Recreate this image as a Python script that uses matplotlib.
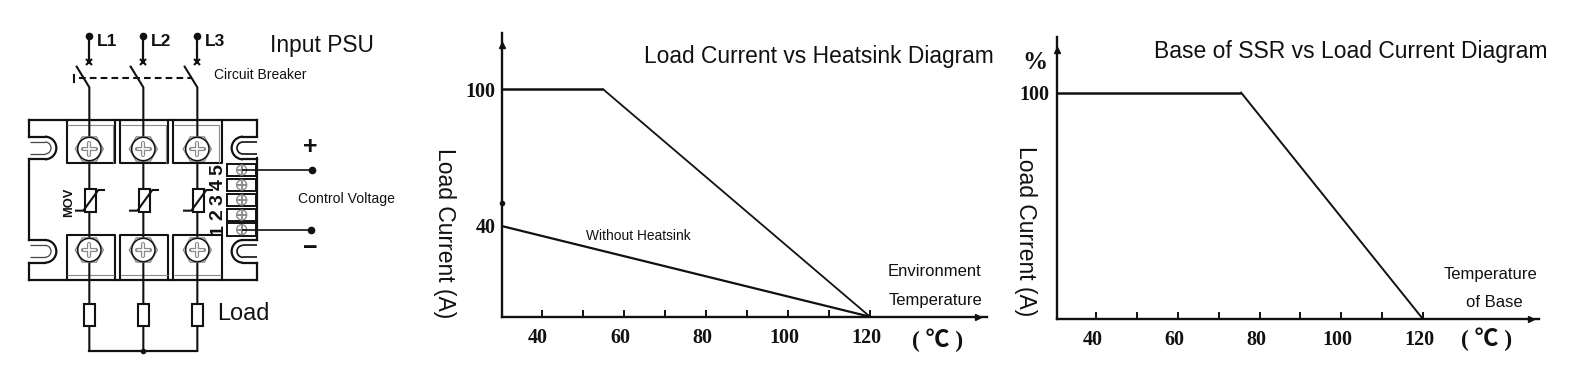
import math
import matplotlib
matplotlib.use('Agg')
import matplotlib.pyplot as plt
from matplotlib.patches import Rectangle, Circle, Arc, RegularPolygon
from matplotlib.transforms import ScaledTranslation

W, H = 1578, 374
INK = '#111111'
GREY = '#8a8a8a'
SANS = 'Liberation Sans'
SERIF = ['Liberation Serif', 'Noto Sans CJK SC']

# heatsink chart
heatsink_temp = [30, 55, 120]
heatsink_load = [100, 100, 0]
no_heatsink_temp = [30, 120]
no_heatsink_load = [40, 0]
# base of SSR chart
base_temp = [30, 75.5, 120]
base_load = [100, 100, 0]

major_ticks = [40, 60, 80, 100, 120]
minor_ticks = [50, 70, 90, 110]
major_labels = ['40', '60', '80', '100', '120']

# schematic layout, in units of 1/3 pixel
phase_x = [268, 430, 592]
phase_labels = ['L1', 'L2', 'L3']
terminal_x = [(200, 345), (360, 505), (520, 665)]
pin_y = [689, 645, 600, 555, 510]
pin_labels = ['1', '2', '3', '4', '5']

fig = plt.figure(figsize=(W / 100, H / 100), dpi=100)


def label(x, y, s, size, **kw):
    kw.setdefault('family', SANS)
    kw.setdefault('color', INK)
    kw.setdefault('ha', 'center')
    kw.setdefault('va', 'center')
    fig.text(x / W, 1 - y / H, s, fontsize=size, **kw)


def chart(left, right, top, bottom, xlim, ylim, yticks, arrows):
    ax = fig.add_axes([left / W, 1 - bottom / H, (right - left) / W, (bottom - top) / H])
    ax.set_xlim(*xlim)
    ax.set_ylim(*ylim)
    ax.patch.set_alpha(0)
    ax.spines['top'].set_visible(False)
    ax.spines['right'].set_visible(False)
    for side in ['left', 'bottom']:
        ax.spines[side].set_linewidth(1.7)
        ax.spines[side].set_color(INK)
    ax.set_xticks(major_ticks)
    ax.set_xticklabels(major_labels, family=SERIF, fontsize=14.5, fontweight='bold', color=INK)
    ax.set_xticks(minor_ticks, minor=True)
    ax.set_yticks(yticks)
    ax.set_yticklabels([str(v) for v in yticks], family=SERIF, fontsize=14.5, fontweight='bold', color=INK)
    ax.tick_params(axis='x', which='both', direction='in', length=5.3, width=1.4, color=INK, pad=8)
    ax.tick_params(axis='y', length=0, pad=5)
    shift = ScaledTranslation(-3.5 / 100, 0, fig.dpi_scale_trans)
    for t in ax.get_xticklabels():
        t.set_transform(t.get_transform() + shift)
    # axis arrow heads
    ax.plot(arrows[0], 0, '>', color=INK, ms=5, transform=ax.transAxes, clip_on=False)
    ax.plot(0, arrows[1], '^', color=INK, ms=4, transform=ax.transAxes, clip_on=False)
    return ax


# ---- middle chart
ax1 = chart(502.3, 987.3, 33, 316.7, (30.4, 148.6), (0, 124.8), [40, 100], (0.98, 0.958))
ax1.plot(heatsink_temp[:2], heatsink_load[:2], color=INK, lw=1.8, solid_capstyle='butt')
ax1.plot(heatsink_temp[1:], heatsink_load[1:], color=INK, lw=1.3)
ax1.plot(no_heatsink_temp, no_heatsink_load, color=INK, lw=1.6)
ax1.plot(30.4, 50, 'o', color=INK, ms=3, clip_on=False)
label(819, 57, 'Load Current vs Heatsink Diagram', 16.4)
label(444, 233, 'Load Current (A)', 16.5, rotation=-90)
label(638, 236, 'Without Heatsink', 9.9)
label(934.5, 271.5, 'Environment', 12)
label(935, 300.5, 'Temperature', 12)
label(938, 340, '( ℃ )', 17, family=SERIF, fontweight='bold')

# ---- right chart
ax2 = chart(1056.7, 1539.3, 36.7, 319.3, (30.4, 148.4), (0, 124.7), [100], (0.982, 0.953))
ax2.plot(base_temp[:2], base_load[:2], color=INK, lw=1.8, solid_capstyle='butt')
ax2.plot(base_temp[1:], base_load[1:], color=INK, lw=1.4)
label(1350.5, 51.5, 'Base of SSR vs Load Current Diagram', 16.5)
label(1025, 231, 'Load Current (A)', 16.5, rotation=-90)
label(1035, 62.7, '%', 18, family=SERIF, fontweight='bold')
label(1491, 274, 'Temperature', 12)
label(1494, 302.7, 'of Base', 12)
label(1486.7, 339, '( ℃ )', 17, family=SERIF, fontweight='bold')

# ---- wiring schematic
sc = fig.add_axes([0, 0, 420 / W, 1])
sc.set_xlim(0, 1260)
sc.set_ylim(1122, 0)
sc.axis('off')


def wire(xs, ys, lw=1.6, **kw):
    kw.setdefault('color', INK)
    sc.plot(xs, ys, lw=lw, solid_capstyle=kw.pop('cap', 'projecting'), **kw)


# body outline
wire([88, 772], [360, 360])
wire([88, 772], [840, 840])
wire([88, 88], [360, 410])
wire([88, 88], [478, 720])
wire([88, 88], [788, 840])
wire([772, 772], [360, 408])
wire([772, 772], [475, 720])
wire([772, 772], [788, 840])

# mounting slots
for y0 in [444, 754]:
    wire([88, 135], [y0 - 34, y0 - 34])
    wire([88, 135], [y0 + 34, y0 + 34])
    wire([90, 135], [y0 - 18, y0 - 18], lw=0.9, color='#444444', cap='butt')
    wire([90, 135], [y0 + 18, y0 + 18], lw=0.9, color='#444444', cap='butt')
    sc.add_patch(Arc((135, y0), 68, 68, theta1=-90, theta2=90, color=INK, lw=1.6))
    sc.add_patch(Arc((135, y0), 36, 36, theta1=-90, theta2=90, color='#444444', lw=0.9))
    wire([772, 729], [y0 - 34, y0 - 34])
    wire([772, 729], [y0 + 34, y0 + 34])
    wire([772, 729], [y0 - 18, y0 - 18], lw=1.2, cap='butt')
    wire([772, 729], [y0 + 18, y0 + 18], lw=1.2, cap='butt')
    sc.add_patch(Arc((729, y0), 68, 68, theta1=90, theta2=270, color=INK, lw=1.6))
    sc.add_patch(Arc((729, y0), 36, 36, theta1=90, theta2=270, color=INK, lw=1.2))

# terminals
for x0, x1 in terminal_x:
    wire([x0, x0, x1, x1], [360, 490, 490, 360], lw=1.5)
    wire([x0 + 2, x1 - 7, x1 - 7], [376, 376, 488], lw=0.8, color=GREY, cap='butt')
    wire([x0, x0, x1, x1], [840, 705, 705, 840], lw=1.5)
    wire([x0 + 2, x1 - 2], [825, 825], lw=0.8, color=GREY, cap='butt')

# phases, screws, MOVs, loads
for px, name in zip(phase_x, phase_labels):
    wire([px, px], [108, 185], cap='butt')
    sc.plot(px, 108, 'o', color=INK, ms=4.5)
    sc.plot(px, 185, 'x', color=INK, ms=5, mew=1.5)
    wire([px - 38, px, px], [200, 262, 1052], lw=1.5)
    label(px / 3 + 18, 41, name, 12.5, fontweight='bold')

    for y0 in [447, 750]:
        sc.add_patch(RegularPolygon((px, y0), 6, radius=42, orientation=math.pi / 6,
                                    fc='white', ec=GREY, lw=1.0, zorder=3))
        sc.add_patch(Circle((px, y0), 35, fc='white', ec=INK, lw=1.1, zorder=3))
        sc.plot([px - 19, px + 19], [y0, y0], color=GREY, lw=3, zorder=4, solid_capstyle='round')
        sc.plot([px, px], [y0 - 19, y0 + 19], color=GREY, lw=3, zorder=4, solid_capstyle='round')
        sc.plot([px - 17, px + 17], [y0, y0], color='white', lw=1.2, zorder=5)
        sc.plot([px, px], [y0 - 17, y0 + 17], color='white', lw=1.2, zorder=5)

    sc.add_patch(Rectangle((px - 13, 568), 33, 67, fc='white', ec=INK, lw=1.5, zorder=3))
    wire([px - 43, px - 18, px + 27, px + 47], [632, 632, 570, 570], lw=1.5, zorder=4, cap='butt')
    sc.add_patch(Rectangle((px - 15, 912), 33, 66, fc='white', ec=INK, lw=1.5, zorder=3))

wire([phase_x[0], phase_x[2]], [1052, 1052])
sc.plot(phase_x[1], 1052, 'o', color=INK, ms=3)

# breaker link
wire([236, 575], [235, 235], lw=1.5, ls=(0, (3.2, 2)), cap='butt')
wire([222, 222], [224, 246], lw=1.5)

# control connector
for y0, name in zip(pin_y, pin_labels):
    sc.add_patch(Rectangle((682, y0 - 19), 86, 38, fc='white', ec=INK, lw=1.4, zorder=3))
    sc.add_patch(Circle((725, y0), 15, fc='white', ec=GREY, lw=1, zorder=4))
    sc.plot([715, 735], [y0, y0], color=GREY, lw=1.4, zorder=5)
    sc.plot([725, 725], [y0 - 10, y0 + 10], color=GREY, lw=1.4, zorder=5)
    label(218, y0 / 3, name, 14, fontweight='bold', rotation=90)

for y0, x1 in [(510, 935), (689, 932)]:
    wire([725, x1], [y0, y0], lw=1.2, zorder=6, cap='butt')
    sc.plot(x1, y0, 'o', color=INK, ms=4.5, zorder=6)

label(69, 202, 'MOV', 9.3, fontweight='bold', rotation=90)
label(310, 147, '+', 18, fontweight='bold')
label(310, 248, '−', 18, fontweight='bold')
label(321.5, 45.5, 'Input PSU', 16.4)
label(260, 75, 'Circuit Breaker', 10)
label(346.7, 199, 'Control Voltage', 10.1)
label(243, 314, 'Load', 16.9)

fig.savefig('out.png', dpi=100, facecolor='white')
